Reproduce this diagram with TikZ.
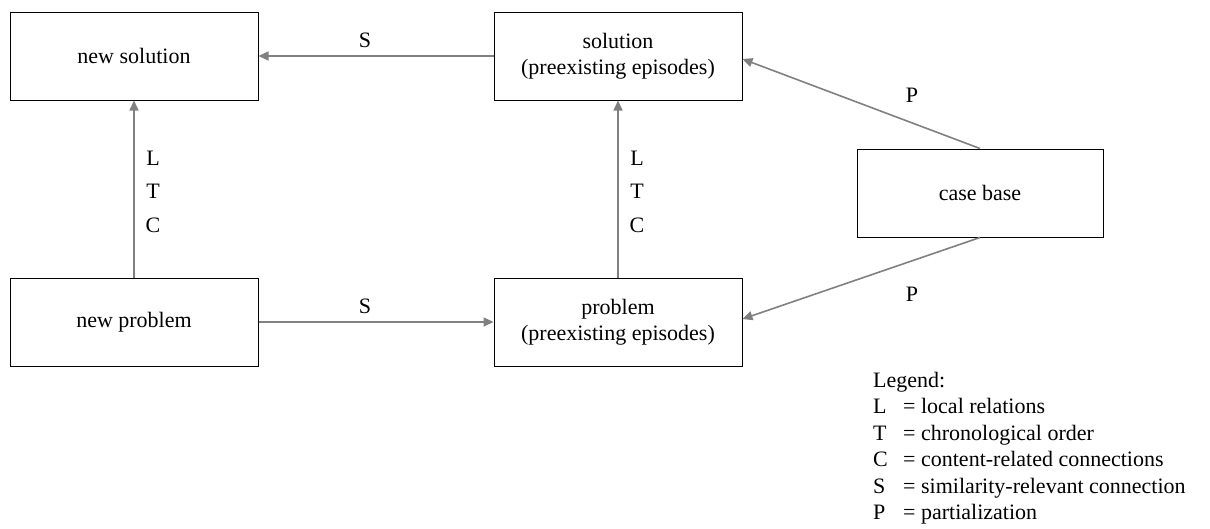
\documentclass[tikz,border=0pt]{standalone}
\usepackage{fontspec}
\setmainfont{Liberation Serif}
\usetikzlibrary{arrows.meta}
\tikzset{
  box/.style={draw=black, line width=1pt, inner sep=0pt, align=center,
    font=\fontsize{22}{26}\selectfont},
  conn/.style={draw=gray, line width=1.6pt, -{Triangle[length=10pt,width=9pt]}},
  lbl/.style={font=\fontsize{22}{26}\selectfont, inner sep=0pt},
  leg/.style={font=\fontsize{22}{26}\selectfont, inner sep=0pt, anchor=base west}
}
\begin{document}
\begin{tikzpicture}[x=1pt,y=-1pt]
\useasboundingbox (0,0) rectangle (1210,528);
% boxes
\node[box, minimum width=248pt, minimum height=88pt] (ns) at (134,56) {new solution};
\node[box, minimum width=248pt, minimum height=88pt] (sol) at (618,56) {solution\\(preexisting episodes)};
\node[box, minimum width=246pt, minimum height=88pt] (cb) at (980,193) {case base};
\node[box, minimum width=248pt, minimum height=88pt] (np) at (134,322) {new problem};
\node[box, minimum width=248pt, minimum height=88pt] (prob) at (618,322) {problem\\(preexisting episodes)};
% connectors
\draw[conn] (sol.west) -- (ns.east);
\draw[conn] (np.east) -- (prob.west);
\draw[conn] (np.north) -- (ns.south);
\draw[conn] (prob.north) -- (sol.south);
\coordinate (solP) at ([yshift=-3pt]sol.east);
\coordinate (probP) at ([yshift=3pt]prob.east);
\draw[conn] (cb.north) -- (solP);
\draw[conn] (cb.south) -- (probP);
% labels
\node[lbl] (s1) at (365,40) {S};
\node[lbl] (s2) at (365,306) {S};
\node[lbl] (l1) at (153,158) {L};
\node[lbl] (t1) at (153,191) {T};
\node[lbl] (c1) at (153,225) {C};
\node[lbl] (l2) at (637,158) {L};
\node[lbl] (t2) at (637,191) {T};
\node[lbl] (c2) at (637,225) {C};
\node[lbl] (p1) at (912,95) {P};
\node[lbl] (p2) at (912,294) {P};
% legend
\node[leg] (lg0) at (873,387) {Legend:};
\node[leg] (lg1) at (873,413.5) {\makebox[30pt][l]{L}= local relations};
\node[leg] (lg2) at (873,440) {\makebox[30pt][l]{T}= chronological order};
\node[leg] (lg3) at (873,466.5) {\makebox[30pt][l]{C}= content-related connections};
\node[leg] (lg4) at (873,493) {\makebox[30pt][l]{S}= similarity-relevant connection};
\node[leg] (lg5) at (873,519.5) {\makebox[30pt][l]{P}= partialization};
\end{tikzpicture}
\end{document}
